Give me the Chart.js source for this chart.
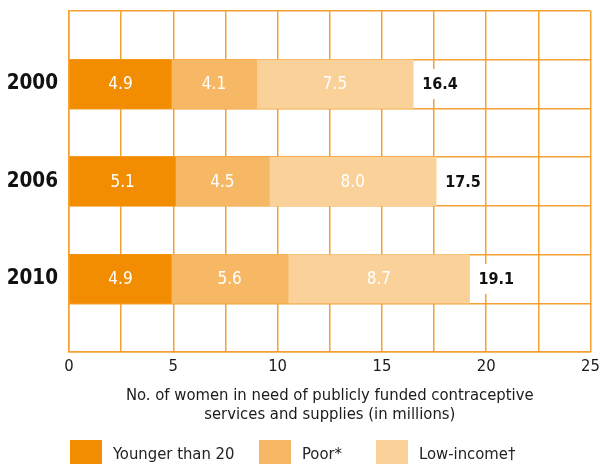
<!DOCTYPE html>
<html>
<head>
<meta charset="utf-8">
<script src="https://cdn.jsdelivr.net/npm/chart.js@4.4.1/dist/chart.umd.min.js"></script>
<style>
    html, body { margin: 0; padding: 0; background: #fff; overflow: hidden; }
    #wrap { position: relative; width: 605px; height: 464px; }
</style>
</head>
<body>
<div id="wrap"><canvas id="chart" width="605" height="464"></canvas></div>
<script>
// women in need of publicly funded contraceptive services (millions)
var years = ['2000', '2006', '2010'];
var younger = [4.9, 5.1, 4.9];
var poor = [4.1, 4.5, 5.6];
var lowIncome = [7.5, 8.0, 8.7];
var totals = [16.4, 17.5, 19.1];
var seriesNames = ['Younger than 20', 'Poor*', 'Low-income\u2020'];
var xTicks = [0, 5, 10, 15, 20, 25];

var FONT = "'Liberation Sans Narrow', 'DejaVu Sans Condensed', 'Roboto', sans-serif";
var colors = ['#F28C00', '#F6B864', '#F9D199'];
var gridColor = '#F4A033';

// blank row between every year so the grid gets its empty bands
var rows = [];
years.forEach(function (y) { rows.push('', y); });
rows.push('');

function spread(values) {
    var out = [];
    values.forEach(function (v) { out.push(null, v); });
    out.push(null);
    return out;
}

var sets = [younger, poor, lowIncome];
var datasets = [];
for (var i = 0; i < sets.length; i++) {
    datasets.push({
        label: seriesNames[i],
        data: spread(sets[i]),
        backgroundColor: colors[i],
        borderWidth: 0,
        barPercentage: 1,
        categoryPercentage: 1
    });
}

// numbers inside the segments, totals after each bar
var barLabels = {
    id: 'barLabels',
    afterDatasetsDraw: function (chart) {
        var ctx = chart.ctx;
        ctx.save();
        ctx.textBaseline = 'middle';
        ctx.textAlign = 'center';
        ctx.fillStyle = '#fff';
        ctx.font = '17px ' + FONT;
        chart.data.datasets.forEach(function (ds, d) {
            var meta = chart.getDatasetMeta(d);
            meta.data.forEach(function (el, k) {
                if (ds.data[k] == null) return;
                var mid = (el.x + el.base) / 2;
                ctx.fillText(ds.data[k].toFixed(1), mid, el.y + 1);
            });
        });
        var last = chart.getDatasetMeta(chart.data.datasets.length - 1);
        ctx.font = 'bold 16px ' + FONT;
        ctx.textAlign = 'left';
        var n = 0;
        last.data.forEach(function (el, k) {
            if (chart.data.datasets[0].data[k] == null) return;
            var txt = totals[n++].toFixed(1);
            var x = el.x + 9;
            var w = ctx.measureText(txt).width;
            ctx.fillStyle = '#fff';
            ctx.fillRect(el.x + 1, el.y - 15, w + 12, 30);
            ctx.fillStyle = '#111';
            ctx.fillText(txt, x, el.y + 1);
        });
        ctx.restore();
    }
};

// legend row along the bottom edge
var bottomLegend = {
    id: 'bottomLegend',
    afterDraw: function (chart) {
        var ctx = chart.ctx;
        var xs = [70, 259, 376];
        ctx.save();
        ctx.font = '16.5px ' + FONT;
        ctx.textBaseline = 'middle';
        ctx.textAlign = 'left';
        chart.data.datasets.forEach(function (ds, d) {
            ctx.fillStyle = ds.backgroundColor;
            ctx.fillRect(xs[d], 440, 32, 24);
            ctx.fillStyle = '#222';
            ctx.fillText(ds.label, xs[d] + 43, 455);
        });
        ctx.restore();
    }
};

new Chart(document.getElementById('chart'), {
    type: 'bar',
    data: { labels: rows, datasets: datasets },
    plugins: [barLabels, bottomLegend],
    options: {
        indexAxis: 'y',
        responsive: false,
        animation: false,
        layout: { padding: { top: 11, right: 13, left: 0, bottom: 0 } },
        plugins: { legend: { display: false }, tooltip: { enabled: false } },
        scales: {
            x: {
                stacked: true,
                min: 0,
                max: 25,
                afterFit: function (s) { s.height = 112; },
                afterBuildTicks: function (s) {
                    var t = [];
                    for (var v = 0; v <= 25; v += 2.5) t.push({ value: v });
                    s.ticks = t;
                },
                ticks: {
                    autoSkip: false,
                    maxRotation: 0,
                    padding: 5,
                    color: '#1a1a1a',
                    font: { family: FONT, size: 16.5 },
                    callback: function (v) { return xTicks.indexOf(v) >= 0 ? String(v) : ''; }
                },
                grid: { color: gridColor, lineWidth: 1.5, drawTicks: false },
                border: { color: gridColor, width: 1.5 },
                title: {
                    display: true,
                    text: ['No. of women in need of publicly funded contraceptive',
                           'services and supplies (in millions)'],
                    color: '#1a1a1a',
                    font: { family: FONT, size: 16.5, lineHeight: 1.15 },
                    padding: { top: 0, bottom: 40 }
                }
            },
            y: {
                stacked: true,
                afterFit: function (s) {
                    s.width = 69;
                    s.paddingTop = 0;
                    s.paddingBottom = 0;
                },
                ticks: {
                    padding: 11,
                    color: '#111',
                    font: { family: FONT, size: 20.5, weight: 'bold' }
                },
                grid: { color: gridColor, lineWidth: 1.5, drawTicks: false, offset: true },
                border: { color: gridColor, width: 1.5 }
            }
        }
    }
});
</script>
</body>
</html>
